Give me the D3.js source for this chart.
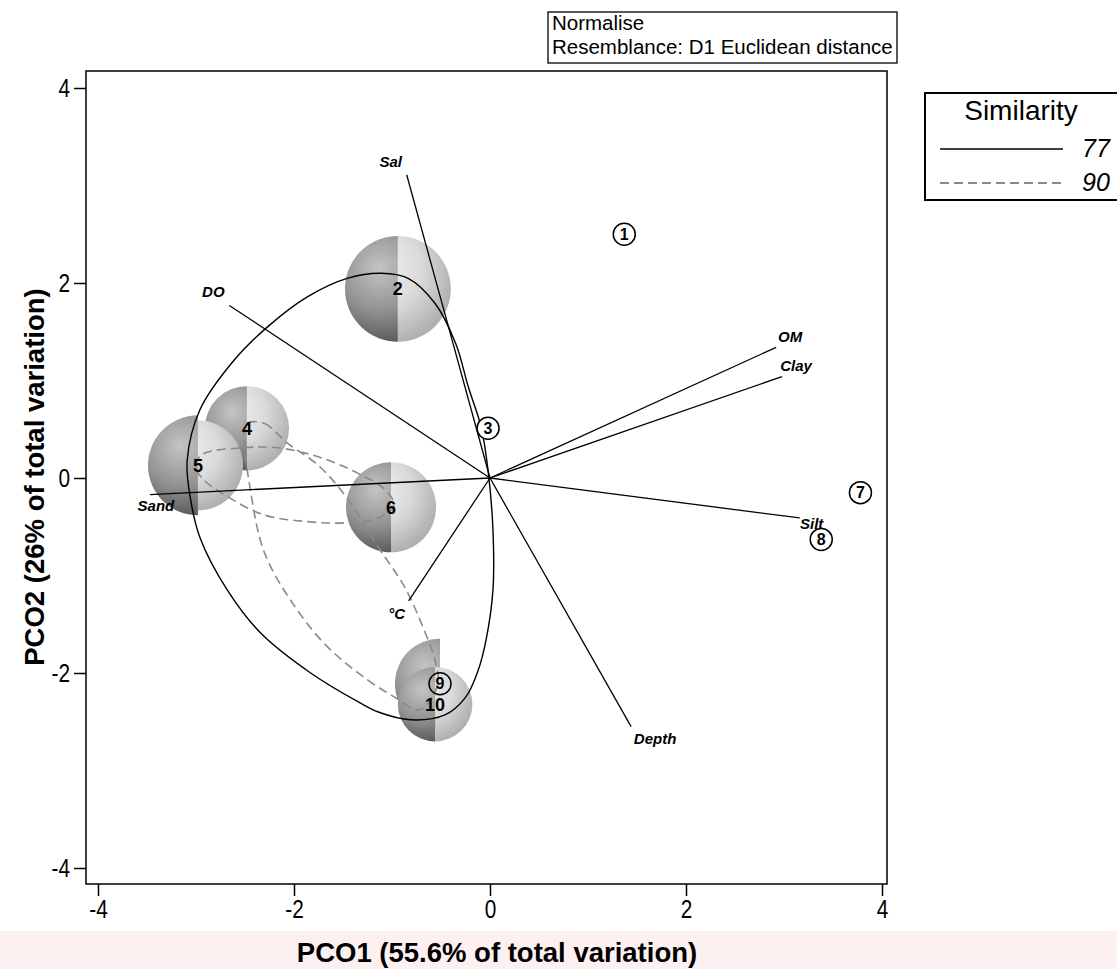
<!DOCTYPE html>
<html>
<head>
<meta charset="utf-8">
<script src="https://cdn.jsdelivr.net/npm/d3@7"></script>
<style>
  body { margin: 0; background: #fff; }
  svg { display: block; }
</style>
</head>
<body>
<svg id="chart" width="1117" height="969"></svg>
<script>
// ---- data (PCO scores) ----
var sampleIds   = ["1", "2", "3", "4", "5", "6", "7", "8", "9", "10"];
var sampleX     = [1.37, -0.94, -0.02, -2.48, -2.98, -1.01, 3.78, 3.38, -0.51, -0.56];
var sampleY     = [2.50, 1.94, 0.51, 0.51, 0.13, -0.30, -0.15, -0.63, -2.11, -2.32];
// segmented bubble sizes (left half / right half), in axis units
var bubbleLeft  = [0, 0.54, 0, 0.43, 0.51, 0.46, 0, 0, 0.46, 0.38];
var bubbleRight = [0, 0.54, 0, 0.43, 0.46, 0.46, 0, 0, 0, 0.38];
var ringed      = ["1", "3", "7", "8", "9"];
var bubbleOrder = ["2", "4", "5", "6", "9", "10"];

// environmental vectors
var vecNames = ["Sal", "DO", "OM", "Clay", "Silt", "Sand", "°C", "Depth"];
var vecX     = [-0.85, -2.66, 2.92, 2.98, 3.16, -3.47, -0.83, 1.44];
var vecY     = [3.11, 1.77, 1.34, 1.04, -0.41, -0.17, -1.26, -2.55];

// similarity outlines
var sim77X = [-3.09, -2.96, -2.61, -2.27, -1.86, -1.45, -1.11, -0.84, -0.56, -0.35, -0.22, -0.09, -0.02, 0.03, 0.03, -0.04, -0.12, -0.25, -0.46, -0.81, -1.14, -1.32, -1.83, -2.34, -2.68, -2.96, -3.06];
var sim77Y = [0.18, 0.70, 1.21, 1.55, 1.86, 2.05, 2.10, 2.05, 1.79, 1.38, 0.93, 0.52, 0.08, -0.53, -1.15, -1.66, -1.97, -2.25, -2.43, -2.48, -2.40, -2.31, -2.00, -1.59, -1.15, -0.61, -0.19];
var sim90aX = [-2.94, -2.51, -2.17, -1.76, -1.35, -1.07, -0.98, -1.14, -1.48, -1.83, -2.30, -2.68, -2.94, -3.00];
var sim90aY = [0.24, 0.31, 0.31, 0.22, 0.05, -0.12, -0.28, -0.41, -0.46, -0.45, -0.38, -0.19, 0.00, 0.12];
var sim90bX = [-2.48, -2.30, -2.07, -1.73, -1.42, -1.14, -0.87, -0.66, -0.56, -0.53, -0.61, -0.73, -0.97, -1.25, -1.66, -1.99, -2.30, -2.45, -2.51];
var sim90bY = [0.56, 0.56, 0.36, 0.11, -0.26, -0.71, -1.12, -1.59, -1.87, -2.09, -2.28, -2.38, -2.25, -2.07, -1.73, -1.32, -0.77, -0.09, 0.46];

var tickValues = [-4, -2, 0, 2, 4];
var legendLevels = ["77", "90"];
var noteLines = ["Normalise", "Resemblance: D1 Euclidean distance"];

// ---- layout ----
var svg = d3.select("#chart");
var x = d3.scaleLinear().domain([-4, 4]).range([98, 882]);
var y = d3.scaleLinear().domain([-4, 4]).range([868, 88]);
var frameL = 86, frameR = 887, frameT = 71, frameB = 884;
var font = "Arial, 'Liberation Sans', sans-serif";

svg.append("rect").attr("x", 0).attr("y", 931).attr("width", 1117).attr("height", 38)
    .style("fill", "#fcf0f1");

var defs = svg.append("defs");

//////////////  Bubbles //////////////
var byId = {};
sampleIds.forEach(function (id, i) { byId[id] = i; });
var arc = d3.arc().innerRadius(0);

bubbleOrder.forEach(function (id) {
    var i = byId[id];
    var cx = x(sampleX[i]), cy = y(sampleY[i]);
    var halves = [
        { r: bubbleLeft[i], a0: Math.PI, a1: 2 * Math.PI, stops: ["#c4c4c4", "#939393", "#585858"], key: "L" },
        { r: bubbleRight[i], a0: 0, a1: Math.PI, stops: ["#f2f2f2", "#dadada", "#b0b0b0"], key: "R" }
    ];
    halves.forEach(function (h) {
        if (h.r <= 0) return;
        var rp = x(h.r) - x(0);
        var gid = "grad" + id + h.key;
        // gradient lives in the path's own (translated) space
        var g = defs.append("radialGradient").attr("id", gid)
            .attr("gradientUnits", "userSpaceOnUse")
            .attr("cx", -0.3 * rp).attr("cy", -0.35 * rp)
            .attr("fx", -0.35 * rp).attr("fy", -0.4 * rp)
            .attr("r", 1.4 * rp);
        g.append("stop").attr("offset", "0").attr("stop-color", h.stops[0]);
        g.append("stop").attr("offset", "0.55").attr("stop-color", h.stops[1]);
        g.append("stop").attr("offset", "1").attr("stop-color", h.stops[2]);
        svg.append("path")
            .attr("transform", "translate(" + cx + "," + cy + ")")
            .attr("d", arc.outerRadius(rp).startAngle(h.a0).endAngle(h.a1)())
            .style("fill", "url(#" + gid + ")");
    });
});

//////////////  Similarity outlines //////////////
var outline = d3.line()
    .x(function (d) { return x(d[0]); })
    .y(function (d) { return y(d[1]); })
    .curve(d3.curveCatmullRomClosed.alpha(0.5));

function zipXY(a, b) { return a.map(function (v, k) { return [v, b[k]]; }); }

[zipXY(sim90aX, sim90aY), zipXY(sim90bX, sim90bY)].forEach(function (pts) {
    svg.append("path").attr("d", outline(pts))
        .style("fill", "none").style("stroke", "#8a8a8a").style("stroke-width", 1.6)
        .style("stroke-dasharray", "9,5");
});
svg.append("path").attr("d", outline(zipXY(sim77X, sim77Y)))
    .style("fill", "none").style("stroke", "#000").style("stroke-width", 1.4);

//////////////  Vectors //////////////
var vecLabelShift = { "Sal": [-16, -8], "DO": [-16, -8], "OM": [14, -5], "Clay": [14, -6], "Silt": [12, 11], "Sand": [6, 16], "°C": [-12, 18], "Depth": [24, 17] };
vecNames.forEach(function (nm, i) {
    svg.append("line")
        .attr("x1", x(0)).attr("y1", y(0))
        .attr("x2", x(vecX[i])).attr("y2", y(vecY[i]))
        .style("stroke", "#000").style("stroke-width", 1.3);
    svg.append("text")
        .attr("x", x(vecX[i]) + vecLabelShift[nm][0])
        .attr("y", y(vecY[i]) + vecLabelShift[nm][1])
        .attr("text-anchor", "middle")
        .style("font-family", font)
        .style("font-size", "15px").style("font-weight", "bold").style("font-style", "italic")
        .text(nm);
});

//////////////  Sample labels //////////////
sampleIds.forEach(function (id, i) {
    var cx = x(sampleX[i]), cy = y(sampleY[i]);
    var isRing = ringed.indexOf(id) >= 0;
    if (isRing) {
        svg.append("circle").attr("cx", cx).attr("cy", cy).attr("r", 11)
            .style("fill", bubbleLeft[i] > 0 ? "none" : "#fff")
            .style("stroke", "#000").style("stroke-width", 1.5);
    }
    svg.append("text").attr("x", cx).attr("y", cy).attr("dy", "0.36em")
        .attr("text-anchor", "middle")
        .style("font-family", font)
        .style("font-size", isRing ? "16px" : "18px").style("font-weight", "bold")
        .text(id);
});

//////////////  Frame and axes //////////////
svg.append("rect").attr("x", frameL).attr("y", frameT)
    .attr("width", frameR - frameL).attr("height", frameB - frameT)
    .style("fill", "none").style("stroke", "#000").style("stroke-width", 1.5);

var xAxis = svg.append("g").attr("transform", "translate(0," + frameB + ")")
    .call(d3.axisBottom(x).tickValues(tickValues).tickSize(12).tickPadding(4));
var yAxis = svg.append("g").attr("transform", "translate(" + frameL + ",0)")
    .call(d3.axisLeft(y).tickValues(tickValues).tickSize(12).tickPadding(4));
[xAxis, yAxis].forEach(function (ax) {
    ax.select(".domain").remove();
    ax.selectAll("line").style("stroke", "#000").style("stroke-width", 1.5);
    ax.selectAll("text")
        .style("font-family", font)
        .style("font-size", "26px").style("fill", "#000")
        .text(function (d) { return d < 0 ? "-" + Math.abs(d) : d; });
});
// narrow digits like the original
xAxis.selectAll("text").attr("transform", "scale(0.8,1)");
yAxis.selectAll("text").attr("x", -20).attr("transform", "scale(0.8,1)");

svg.append("text").attr("x", 497).attr("y", 962).attr("text-anchor", "middle")
    .style("font-family", font)
    .style("font-size", "27.5px").style("font-weight", "bold")
    .text("PCO1 (55.6% of total variation)");
svg.append("text").attr("transform", "translate(44,477) rotate(-90)").attr("text-anchor", "middle")
    .style("font-family", font)
    .style("font-size", "27.5px").style("font-weight", "bold")
    .text("PCO2 (26% of total variation)");

//////////////  Note box //////////////
svg.append("rect").attr("x", 548).attr("y", 12).attr("width", 349).attr("height", 51)
    .style("fill", "#fff").style("stroke", "#000").style("stroke-width", 1.3);
noteLines.forEach(function (t, k) {
    svg.append("text").attr("x", 552).attr("y", 30 + k * 24)
        .style("font-family", font)
        .style("font-size", "20.5px").text(t);
});

//////////////  Legend //////////////
var lg = svg.append("g");
lg.append("rect").attr("x", 925).attr("y", 93).attr("width", 210).attr("height", 107)
    .style("fill", "#fff").style("stroke", "#000").style("stroke-width", 2);
lg.append("text").attr("x", 1021).attr("y", 120).attr("text-anchor", "middle")
    .style("font-family", font).style("font-size", "28px")
    .text("Similarity");
legendLevels.forEach(function (lv, k) {
    var ly = 149 + k * 34;
    lg.append("line").attr("x1", 940).attr("x2", 1063).attr("y1", ly).attr("y2", ly)
        .style("stroke", k === 0 ? "#000" : "#8a8a8a").style("stroke-width", k === 0 ? 1.6 : 1.8)
        .style("stroke-dasharray", k === 0 ? null : "9,5");
    lg.append("text").attr("x", 1082).attr("y", ly + 8)
        .style("font-family", font).style("font-size", "25px")
        .style("font-style", "italic").text(lv);
});
</script>
</body>
</html>
